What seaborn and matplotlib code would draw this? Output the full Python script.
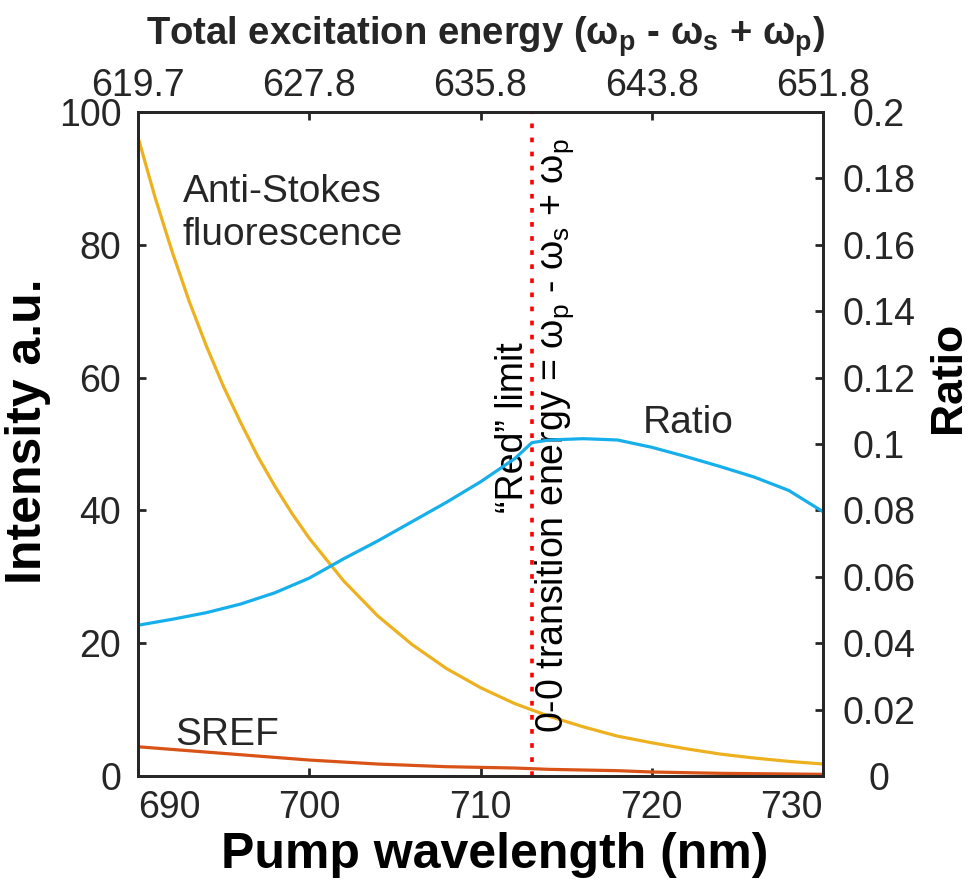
import matplotlib
matplotlib.use("Agg")
import matplotlib.pyplot as plt
import numpy as np
import pandas as pd
import seaborn as sns

# values
wavelength = [690, 691, 692, 693, 694, 695, 696, 697, 698, 699, 700, 702, 704,
              706, 708, 710, 712, 714, 716, 718, 720, 722, 724, 726, 728, 730]
anti_stokes = [96.2, 87.1, 78.9, 71.4, 64.7, 58.6, 53.2, 48.1, 43.6, 39.5, 35.8,
               29.4, 24.1, 19.8, 16.2, 13.3, 10.9, 9.0, 7.4, 6.0, 5.0, 4.1,
               3.3, 2.7, 2.2, 1.8]
sref = [4.4, 4.2, 4.0, 3.8, 3.6, 3.4, 3.2, 3.0, 2.8, 2.6, 2.4, 2.1, 1.8,
        1.6, 1.4, 1.3, 1.2, 1.0, 0.9, 0.8, 0.6, 0.5, 0.4, 0.35, 0.3, 0.25]

ratio_wl = [690, 692, 694, 696, 698, 700, 702, 704, 706, 708, 710, 712,
            713, 714, 716, 718, 720, 722, 724, 726, 728, 730]
ratio = [0.0454, 0.0472, 0.0492, 0.0518, 0.0552, 0.0596, 0.0654, 0.0708,
         0.0766, 0.0824, 0.0886, 0.0956, 0.1004, 0.1012, 0.1016, 0.1012,
         0.0990, 0.0962, 0.0932, 0.0900, 0.0860, 0.0796]

red_limit = 713
x_ticks = [690, 700, 710, 720, 730]
top_labels = ["619.7", "627.8", "635.8", "643.8", "651.8"]
left_ticks = [0, 20, 40, 60, 80, 100]
right_ticks = [0, 0.02, 0.04, 0.06, 0.08, 0.1, 0.12, 0.14, 0.16, 0.18, 0.2]

sns.set_theme(style="ticks")
plt.rcParams["font.family"] = ["Liberation Sans", "DejaVu Sans"]
plt.rcParams["mathtext.default"] = "regular"

ink = "#262626"
c_yellow = "#EDB120"
c_blue = "#16AFEC"
c_orange = "#D95319"

df = pd.DataFrame({"wl": wavelength, "anti": anti_stokes, "sref": sref})
dr = pd.DataFrame({"wl": ratio_wl, "ratio": ratio})

fig = plt.figure(figsize=(9.74, 8.81), dpi=100)
ax = fig.add_axes([0.1417, 0.1192, 0.7033, 0.7537])
ax2 = ax.twinx()

sns.lineplot(data=df, x="wl", y="anti", ax=ax, color=c_yellow, lw=2.3)
sns.lineplot(data=df, x="wl", y="sref", ax=ax, color=c_orange, lw=2.3)
sns.lineplot(data=dr, x="wl", y="ratio", ax=ax2, color=c_blue, lw=2.3)
ax.axvline(red_limit, color="red", lw=2.6, linestyle=(0, (1.3, 2.6)), zorder=5)

ax.set_xlim(690, 730)
ax.set_ylim(0, 100)
ax2.set_ylim(0, 0.2)
ax.set_xticks(x_ticks)
ax.set_yticks(left_ticks)
ax2.set_yticks(right_ticks)
ax2.set_yticklabels(["%g" % t for t in right_ticks], ha="center")

for a in (ax, ax2):
    for s in a.spines.values():
        s.set_linewidth(2.0)
        s.set_color(ink)
    a.tick_params(direction="in", length=6, width=2.0, color=ink,
                  labelsize=27, labelcolor=ink)
ax.tick_params(axis="x", pad=10)
ax.tick_params(axis="y", pad=12)
ax2.tick_params(axis="y", pad=40)

# end labels pulled inside, as in the original
xlabels = ax.get_xticklabels()
xlabels[0].set_ha("left")
xlabels[-1].set_ha("right")

top = ax.secondary_xaxis("top")
top.set_xticks(x_ticks, labels=top_labels)
top.tick_params(direction="in", length=6, width=2.0, color=ink,
                labelsize=27, labelcolor=ink, pad=6)

ax.set_xlabel("Pump wavelength (nm)", fontsize=36, fontweight="bold",
              color="black")
ax.xaxis.set_label_coords(0.52, -0.085)
ax.set_ylabel("Intensity a.u.", fontsize=36, fontweight="bold",
              color="black")
ax.yaxis.set_label_coords(-0.127, 0.52)
ax2.set_ylabel("Ratio", fontsize=32, fontweight="bold", color="black")
ax2.yaxis.set_label_coords(1.153, 0.60)
fig.text(0.498, 0.958, r"Total excitation energy (ω$_{p}$ - ω$_{s}$ + ω$_{p}$)",
         fontsize=27.5, fontweight="bold", ha="center", va="center")

ax.text(692.6, 90.6, "Anti-Stokes\nfluorescence", fontsize=28, color=ink,
        ha="left", va="top", linespacing=1.25)
ax.text(692.2, 4.7, "SREF", fontsize=28, color=ink, ha="left", va="baseline")
ax.text(719.5, 51.7, "Ratio", fontsize=28, color=ink, ha="left", va="baseline")
ax.text(711.9, 52.5, "\u201cRed\u201d limit", fontsize=27, color="black",
        rotation=90, ha="center", va="center")
ax.text(714.3, 51.3, r"0-0 transition energy = ω$_{p}$ - ω$_{s}$ + ω$_{p}$",
        fontsize=27, color="black", rotation=90, ha="center", va="center")

fig.savefig("out.png", dpi=100)
